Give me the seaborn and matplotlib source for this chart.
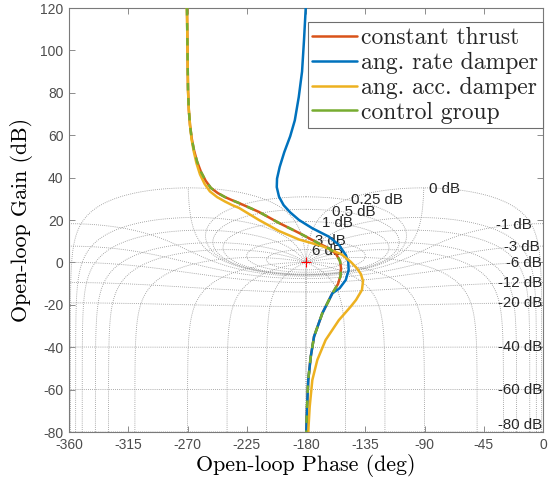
import numpy as np
import pandas as pd
import matplotlib
matplotlib.use("Agg")
import matplotlib.pyplot as plt
import seaborn as sns

# ---- open-loop responses (phase deg, gain dB) ----
thrust_phase = [-270.4, -270.2, -270.0, -269.8, -269.6, -269.0, -268.1, -266.8, -265.1,
                -262.7, -259.7, -256.2, -252.2, -247.0, -241.5, -236.0, -230.9, -215.7,
                -200.5, -185.3, -170.1, -162.5, -157.2, -154.2, -153.4, -153.8, -155.7,
                -160.0, -167.6, -173.9, -176.4, -178.3, -179.2, -179.8]
thrust_gain = [120.0, 110.0, 100.2, 90.0, 81.3, 72.0, 64.8, 58.5, 53.0,
               47.5, 42.6, 38.5, 35.1, 32.7, 30.8, 29.3, 28.0, 23.8,
               18.6, 13.9, 8.9, 6.6, 4.0, 0.7, -2.6, -6.4, -10.2,
               -14.6, -24.0, -35.0, -44.5, -55.5, -68.1, -80.0]

rate_phase = [-180.2, -181.5, -183.0, -185.5, -188.5, -192.0, -196.5, -200.0, -202.0,
              -202.2, -200.5, -197.0, -192.0, -185.3, -175.2, -162.5, -154.9, -149.8,
              -147.9, -147.6, -149.8, -154.5, -160.0, -167.6, -173.9, -176.4, -178.3,
              -179.2, -179.8]
rate_gain = [120.0, 105.0, 90.0, 78.0, 67.0, 59.5, 52.0, 45.0, 39.5,
             35.5, 31.0, 27.0, 23.6, 20.0, 16.1, 12.1, 8.2, 3.5,
             0.3, -3.6, -8.3, -12.2, -14.6, -24.0, -35.0, -44.5, -55.5,
             -68.1, -80.0]

acc_phase = [-270.4, -270.2, -270.0, -269.8, -269.6, -269.0, -268.1, -266.9, -265.3,
             -263.2, -260.5, -257.0, -253.0, -247.5, -241.5, -236.0, -230.9, -215.7,
             -200.5, -185.3, -167.8, -152.7, -145.9, -141.3, -138.3, -136.7, -137.5,
             -142.0, -146.1, -155.0, -165.1, -171.4, -175.2, -177.2, -178.3]
acc_gain = [120.0, 110.0, 100.2, 90.0, 81.3, 72.0, 64.8, 58.0, 52.5,
            46.8, 41.5, 37.0, 33.5, 30.8, 28.7, 27.0, 25.7, 20.0,
            14.8, 10.8, 7.7, 3.7, 0.2, -2.8, -5.5, -8.8, -13.0,
            -17.7, -20.9, -27.2, -36.6, -46.0, -55.5, -68.1, -80.0]

control_phase = list(thrust_phase)
control_gain = list(thrust_gain)

series_names = ["constant thrust", "ang. rate damper", "ang. acc. damper", "control group"]
series_colors = ["#D95319", "#0072BD", "#EDB120", "#77AC30"]

# Nichols grid levels (closed-loop gain dB, closed-loop phase deg)
grid_gains = [6, 3, 1, 0.5, 0.25, 0, -1, -3, -6, -12, -20, -40, -60, -80, -100]
grid_phases = [1, 5, 10, 20, 30, 50, 90, 120, 150, 180]

sns.set_theme(style="ticks")
plt.rcParams["font.family"] = ["Liberation Sans", "DejaVu Sans"]
plt.rcParams["axes.unicode_minus"] = False

fig = plt.figure(figsize=(5.48, 4.83), dpi=100)
ax = fig.add_axes([69 / 548, 1 - 432 / 483, 474 / 548, 424 / 483])

grid_kw = dict(color="#8f8f8f", ls=(0, (1, 1.5)), lw=0.6, zorder=1)

# constant closed-loop gain contours
for g in grid_gains:
    M = 10 ** (g / 20)
    if g == 0:
        phi = np.radians(np.linspace(1, 359, 1400))
    else:
        phi = np.radians(np.linspace(0, 360, 1441))
    T = M * np.exp(-1j * phi)
    L = T / (1 - T)
    ph = np.degrees(np.unwrap(np.angle(L)))
    if g > 0:
        ph -= 360 * np.round((ph.mean() + 180) / 360)
    ax.plot(ph, 20 * np.log10(np.abs(L)), **grid_kw)

# constant closed-loop phase contours
m = np.logspace(-6, 6, 30000)
for p in grid_phases:
    T = m * np.exp(-1j * np.radians(p))
    L = T / (1 - T)
    ph = np.degrees(np.unwrap(np.angle(L)))
    ph -= 360 * np.round((ph[0] + p) / 360)
    gdb = 20 * np.log10(np.abs(L))
    ax.plot(ph, gdb, **grid_kw)
    ax.plot(-360 - ph, gdb, **grid_kw)

# grid labels
lab_kw = dict(fontsize=10.8, color="#262626", zorder=2)
pos_labels = [("6 dB", -175.4, 5.6), ("3 dB", -173.0, 10.2), ("1 dB", -167.5, 18.6),
              ("0.5 dB", -160.0, 23.9), ("0.25 dB", -145.5, 29.2), ("0 dB", -86.6, 34.6)]
for txt, x, y in pos_labels:
    ax.text(x, y, txt, ha="left", va="center", **lab_kw)
neg_labels = [("-1 dB", -22.4, 17.6), ("-3 dB", -16.3, 7.3), ("-6 dB", -14.8, -0.3),
              ("-12 dB", -17.3, -9.6), ("-20 dB", -17.1, -19.1), ("-40 dB", -17.3, -39.8),
              ("-60 dB", -17.3, -60.1), ("-80 dB", -17.3, -76.6)]
for txt, x, y in neg_labels:
    ax.text(x, y, txt, ha="center", va="center", **lab_kw)

# response curves
curves = [(thrust_phase, thrust_gain), (rate_phase, rate_gain),
          (acc_phase, acc_gain), (control_phase, control_gain)]
for (xs, ys), name, col in zip(curves, series_names, series_colors):
    df = pd.DataFrame({"phase": xs, "gain": ys})
    ls = (0, (3, 3)) if name == "control group" else "-"
    sns.lineplot(data=df, x="phase", y="gain", sort=False, estimator=None, ax=ax,
                 color=col, lw=1.8, linestyle=ls, label=name, zorder=3)

ax.plot([-180], [0], marker="+", color="red", ms=7, mew=0.8, ls="none", zorder=4)

ax.set_xlim(-360, 0)
ax.set_ylim(-80, 120)
ax.set_xticks(np.arange(-360, 1, 45))
ax.set_yticks(np.arange(-80, 121, 20))
ax.tick_params(direction="in", length=4, width=0.6, color="#7a7a7a", labelcolor="#4d4d4d",
               labelsize=10, top=True, right=True, pad=4)
for s in ax.spines.values():
    s.set_color("#7a7a7a")
    s.set_linewidth(0.8)

ax.set_xlabel("Open-loop Phase (deg)", fontfamily="cmr10", fontsize=15.8, color="black", labelpad=2)
ax.set_ylabel("Open-loop Gain (dB)", fontfamily="cmr10", fontsize=15.8, color="black", labelpad=5)

leg = ax.legend(loc="upper right", bbox_to_anchor=(1.0, 1 - 14 / 424), borderaxespad=0,
                prop={"family": "cmr10", "size": 17}, frameon=True, fancybox=False,
                framealpha=1, edgecolor="#6e6e6e", handlelength=1.9, handletextpad=0.17,
                labelspacing=0.12, borderpad=0.2)
leg.get_frame().set_linewidth(0.8)
for h in leg.legend_handles:
    h.set_linestyle("-")

fig.savefig("out.png", dpi=100)
